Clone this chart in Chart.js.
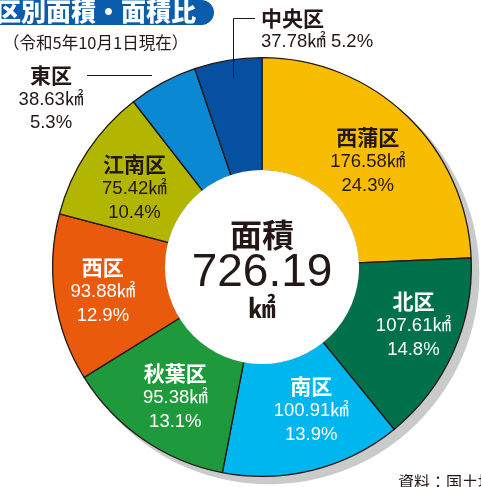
<!DOCTYPE html>
<html>
<head>
<meta charset="utf-8">
<script src="https://cdn.jsdelivr.net/npm/chart.js@4.4.0/dist/chart.umd.min.js"></script>
<style>
  html, body { margin: 0; padding: 0; background: #fff; overflow: hidden; }
  #wrap { position: relative; width: 481px; height: 487px; font-family: "Noto Sans CJK JP", "Noto Sans", sans-serif; }
  #banner { position: absolute; left: 0; top: 0; width: 214px; height: 25px; background: #0b5cab; border-radius: 0 13px 13px 0; overflow: hidden; }
  #banner span { position: absolute; left: -4px; top: -8px; color: #fff; font-weight: 900; font-size: 25px; white-space: nowrap; }
  #sub { position: absolute; left: 3px; top: 30px; font-size: 16.5px; color: #231815; white-space: nowrap; }
  #src { position: absolute; left: 398px; top: 469px; font-size: 16px; color: #231815; white-space: nowrap; }
  canvas { position: absolute; left: 0; top: 0; }
</style>
</head>
<body>
<div id="wrap">
  <canvas id="chart" width="481" height="487"></canvas>
  <div id="banner"><span>区別面積・面積比</span></div>
  <div id="sub">（令和5年10月1日現在）</div>
  <div id="src">資料：国土地理院</div>
</div>
<script>
// 区別面積（㎢）と面積比（%）
const districts = ['西蒲区', '北区', '南区', '秋葉区', '西区', '江南区', '東区', '中央区'];
const areas = [176.58, 107.61, 100.91, 95.38, 93.88, 75.42, 38.63, 37.78];
const shares = [24.3, 14.8, 13.9, 13.1, 12.9, 10.4, 5.3, 5.2];
const totalArea = '726.19';

const sliceColors = ['#f8bd00', '#00714b', '#00b6ee', '#1e9a3c', '#e95a0c', '#b3b600', '#0a89d2', '#0650a2'];
const labelColors = ['#231815', '#fff', '#fff', '#fff', '#fff', '#231815', '#231815', '#231815'];
// 内側ラベルの微調整（px）
const nudges = [[0, 5], [12, -4], [12, -4], [0, 5], [-8, 2], [0, 6]];

const INK = '#231815';
const CJK = '"Noto Sans CJK JP", "Noto Sans", sans-serif';
const NUM = '"Liberation Sans", ' + CJK;

const decor = {
  id: 'decor',
  beforeDatasetsDraw(chart) {
    const arc = chart.getDatasetMeta(0).data[0];
    const ctx = chart.ctx;
    ctx.save();
    ctx.fillStyle = '#c9caca';
    ctx.beginPath();
    ctx.arc(arc.x + 7, arc.y + 7, arc.outerRadius + 1, 0, Math.PI * 2);
    ctx.fill();
    ctx.restore();
  },
  afterDatasetsDraw(chart) {
    const arcs = chart.getDatasetMeta(0).data;
    const ctx = chart.ctx;
    const cx = arcs[0].x, cy = arcs[0].y;
    const inner = arcs[0].innerRadius, outer = arcs[0].outerRadius;
    ctx.save();
    // 中央の白抜き
    ctx.fillStyle = '#fff';
    ctx.beginPath();
    ctx.arc(cx, cy, inner + 0.8, 0, Math.PI * 2);
    ctx.fill();

    ctx.textAlign = 'center';
    ctx.textBaseline = 'middle';
    ctx.fillStyle = INK;
    ctx.font = 'bold 32px ' + CJK;
    ctx.fillText('面積', cx, cy - 32);
    ctx.font = '46px ' + NUM;
    ctx.fillText(totalArea, cx, cy + 6);
    ctx.font = 'bold 27px ' + CJK;
    ctx.fillText('㎢', cx, cy + 41);

    // 内側ラベル
    const r = (inner + outer) / 2;
    for (let i = 0; i < 6; i++) {
      const a = arcs[i];
      const mid = (a.startAngle + a.endAngle) / 2;
      const x = cx + Math.cos(mid) * r + nudges[i][0];
      const y = cy + Math.sin(mid) * r + nudges[i][1];
      ctx.fillStyle = labelColors[i];
      ctx.font = 'bold 21px ' + CJK;
      ctx.fillText(districts[i], x, y - 25);
      ctx.font = '18.5px ' + NUM;
      ctx.fillText(areas[i].toFixed(2) + '㎢', x, y);
      ctx.fillText(shares[i].toFixed(1) + '%', x, y + 24);
    }

    // 外側ラベル（東区）
    ctx.fillStyle = INK;
    ctx.strokeStyle = INK;
    ctx.lineWidth = 1;
    ctx.font = 'bold 21px ' + CJK;
    ctx.fillText(districts[6], 51, 75);
    ctx.font = '18.5px ' + NUM;
    ctx.fillText(areas[6].toFixed(2) + '㎢', 51, 100);
    ctx.fillText(shares[6].toFixed(1) + '%', 51, 123);
    ctx.beginPath();
    ctx.moveTo(87, 75.5);
    ctx.lineTo(152, 75.5);
    ctx.stroke();

    // 外側ラベル（中央区）
    ctx.textAlign = 'left';
    ctx.font = 'bold 21px ' + CJK;
    ctx.fillText(districts[7], 261, 18);
    ctx.font = '18.5px ' + NUM;
    ctx.fillText(areas[7].toFixed(2) + '㎢ ' + shares[7].toFixed(1) + '%', 261, 42);
    ctx.beginPath();
    ctx.moveTo(255, 18.5);
    ctx.lineTo(233.5, 18.5);
    ctx.lineTo(233.5, 78);
    ctx.stroke();
    ctx.restore();
  }
};

new Chart(document.getElementById('chart'), {
  type: 'doughnut',
  data: {
    labels: districts,
    datasets: [{
      data: areas,
      backgroundColor: sliceColors,
      borderColor: INK,
      borderWidth: 1.3
    }]
  },
  options: {
    responsive: false,
    animation: false,
    cutout: '46%',
    layout: { padding: { left: 52, top: 57, right: 9, bottom: 10 } },
    plugins: { legend: { display: false }, tooltip: { enabled: false } }
  },
  plugins: [decor]
});
</script>
</body>
</html>
